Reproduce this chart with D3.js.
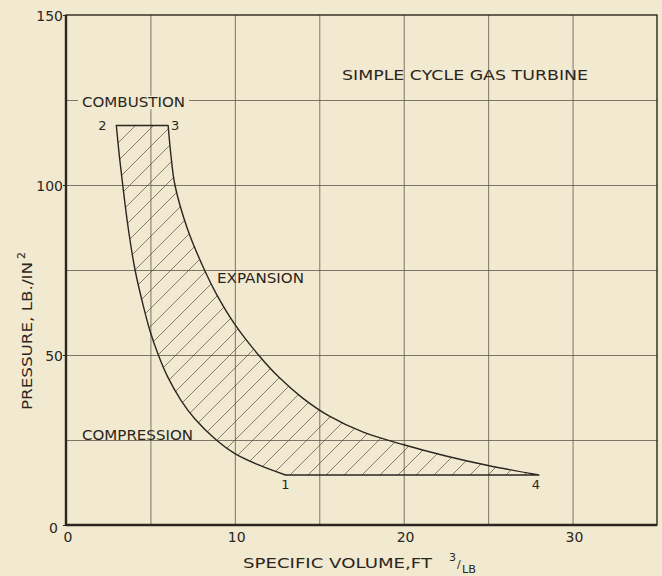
<!DOCTYPE html>
<html>
<head>
<meta charset="utf-8">
<script src="https://cdn.jsdelivr.net/npm/d3@7"></script>
<style>
  body { margin: 0; background: #f1e9d0; }
  svg { display: block; }
  text { font-family: "DejaVu Sans", sans-serif; fill: #2b2620; }
</style>
</head>
<body>
<div id="chart"></div>
<script>
// tick values and grid
var xTicks = [0, 10, 20, 30];
var yTicks = [0, 50, 100, 150];
var xGrid = [5, 10, 15, 20, 25, 30];
var yGrid = [25, 50, 75, 100, 125];

// cycle corner points (specific volume ft3/lb, pressure psi)
var cycleLabels = ["1", "2", "3", "4"];
var cycleV = [13, 2.98, 6.05, 28];
var cycleP = [14.7, 117.5, 117.5, 14.7];

// compression curve, 1 -> 2
var compV = [13, 11.3, 10, 8.9, 7.6, 6.82, 6, 5.47, 4.98, 4.6, 4.09, 3.68, 3.36, 3.15, 2.98];
var compP = [14.7, 17.9, 21, 25, 31.4, 36.6, 43.8, 50, 57, 64, 75, 87.5, 100, 109, 117.5];

// expansion curve, 3 -> 4
var expV = [6.05, 6.22, 6.45, 7.2, 8.2, 8.9, 10, 11.4, 12.6, 14, 15.6, 17.6, 20, 22.5, 25, 28];
var expP = [117.5, 108.5, 100, 87, 75, 68, 59, 50, 43.5, 37.4, 32, 27.3, 23.6, 20.3, 17.5, 14.7];

var margin = { top: 15, right: 5, bottom: 51, left: 66 },
  width = 662 - margin.left - margin.right,
  height = 576 - margin.top - margin.bottom;

var ink = "#2b2620";
var paper = "#f1e9d0";

var root = d3.select("#chart")
  .append("svg")
  .attr("width", 662)
  .attr("height", 576);

root.append("rect").attr("width", 662).attr("height", 576).attr("fill", paper);

var svg = root.append("g")
  .attr("transform", "translate(" + margin.left + "," + margin.top + ")");

var x = d3.scaleLinear().domain([0, 35]).range([0, width]);
var y = d3.scaleLinear().domain([0, 150]).range([height, 0]);

// hatch pattern
var defs = root.append("defs");
var hs = 18;
defs.append("pattern")
  .attr("id", "hatch")
  .attr("patternUnits", "userSpaceOnUse")
  .attr("width", hs)
  .attr("height", hs)
  .append("path")
  .attr("d", "M0," + hs + " L" + hs + ",0 M-2,2 L2,-2 M" + (hs - 2) + "," + (hs + 2) + " L" + (hs + 2) + "," + (hs - 2))
  .attr("stroke", "#514b40")
  .attr("stroke-width", 0.7);

// grid
svg.append("g")
  .attr("transform", "translate(0," + height + ")")
  .call(d3.axisBottom(x).tickValues(xGrid).tickSize(-height).tickFormat(""))
  .call(function (g) { g.select(".domain").remove(); })
  .selectAll("line")
  .attr("stroke", "#5e584c")
  .attr("stroke-width", 0.8);

svg.append("g")
  .call(d3.axisLeft(y).tickValues(yGrid).tickSize(-width).tickFormat(""))
  .call(function (g) { g.select(".domain").remove(); })
  .selectAll("line")
  .attr("stroke", "#5e584c")
  .attr("stroke-width", 0.8);

// frame
svg.append("rect")
  .attr("width", width)
  .attr("height", height)
  .attr("fill", "none")
  .attr("stroke", ink)
  .attr("stroke-width", 1.4);
svg.append("line").attr("x1", 0).attr("x2", 0).attr("y1", 0).attr("y2", height)
  .attr("stroke", ink).attr("stroke-width", 2.4);
svg.append("line").attr("x1", 0).attr("x2", width).attr("y1", height).attr("y2", height)
  .attr("stroke", ink).attr("stroke-width", 2.4);

// tick labels
var yAxis = svg.append("g")
  .call(d3.axisLeft(y).tickValues(yTicks).tickSize(3).tickPadding(2));
yAxis.select(".domain").remove();
yAxis.selectAll("line").attr("stroke", ink);
yAxis.selectAll("text")
  .attr("font-size", "14px")
  .attr("dy", function (d) { return d === 0 ? "0.55em" : "0.4em"; })
  .attr("x", function (d) { return d === 0 ? -8 : -3; })
  .style("font-family", "DejaVu Sans, sans-serif")
  .attr("fill", ink);

var xAxis = svg.append("g")
  .attr("transform", "translate(0," + height + ")")
  .call(d3.axisBottom(x).tickValues(xTicks).tickSize(0).tickPadding(7));
xAxis.select(".domain").remove();
xAxis.selectAll("text")
  .attr("font-size", "14px")
  .attr("dx", "0.1em")
  .style("font-family", "DejaVu Sans, sans-serif")
  .attr("fill", ink);

// text label, optionally on a paper patch that breaks the grid line
function label(txt, x0, yb, len, size, bg) {
  if (bg) {
    svg.append("rect")
      .attr("x", x0 - 4)
      .attr("y", yb - size * 0.8)
      .attr("width", len + 8)
      .attr("height", size * 0.95)
      .attr("fill", paper);
  }
  return svg.append("text")
    .attr("x", x0)
    .attr("y", yb)
    .attr("font-size", size + "px")
    .attr("textLength", len)
    .attr("lengthAdjust", "spacingAndGlyphs")
    .text(txt);
}

// cycle area
var lineGen = d3.line()
  .x(function (d) { return x(d[0]); })
  .y(function (d) { return y(d[1]); })
  .curve(d3.curveCatmullRom.alpha(0.5));

var compPts = compV.map(function (v, i) { return [v, compP[i]]; });
var expPts = expV.map(function (v, i) { return [v, expP[i]]; });

var cyclePath = lineGen(compPts) + "L" + lineGen(expPts).slice(1) + "Z";

svg.append("path")
  .attr("d", cyclePath)
  .attr("fill", "url(#hatch)")
  .attr("stroke", "none");

svg.append("path")
  .attr("d", cyclePath)
  .attr("fill", "none")
  .attr("stroke", ink)
  .attr("stroke-width", 1.4)
  .attr("stroke-linejoin", "round");

// text labels (page positions shifted into plot coords)
label("COMBUSTION", 82 - margin.left, 107 - margin.top, 103, 14, true);
label("SIMPLE CYCLE GAS TURBINE", 342 - margin.left, 80 - margin.top, 246, 13.5, false);
label("EXPANSION", 217 - margin.left, 283 - margin.top, 87, 14, false);
label("COMPRESSION", 82 - margin.left, 440 - margin.top, 111, 14, false);

// corner numbers
var numOffset = { "1": [0, 14], "2": [-14, 4], "3": [7, 4], "4": [-3, 14] };
svg.selectAll(".num")
  .data(cycleLabels)
  .enter()
  .append("text")
  .attr("class", "num")
  .attr("x", function (d, i) { return x(cycleV[i]) + numOffset[d][0]; })
  .attr("y", function (d, i) { return y(cycleP[i]) + numOffset[d][1]; })
  .attr("text-anchor", "middle")
  .attr("font-size", "13px")
  .text(function (d) { return d; });

// x axis title
root.append("text")
  .attr("x", 243).attr("y", 568)
  .attr("font-size", "13.5px")
  .attr("textLength", 189)
  .attr("lengthAdjust", "spacingAndGlyphs")
  .text("SPECIFIC VOLUME,FT");
root.append("text").attr("x", 449).attr("y", 561).attr("font-size", "11px").text("3");
root.append("text").attr("x", 457).attr("y", 568).attr("font-size", "11px").text("/");
root.append("text").attr("x", 462).attr("y", 573).attr("font-size", "11px")
  .attr("textLength", 14).attr("lengthAdjust", "spacingAndGlyphs").text("LB");

// y axis title
var yt = root.append("g").attr("transform", "translate(32,410) rotate(-90)");
yt.append("text")
  .attr("x", 0).attr("y", 0)
  .attr("font-size", "13.5px")
  .attr("textLength", 148)
  .attr("lengthAdjust", "spacingAndGlyphs")
  .text("PRESSURE, LB./IN");
yt.append("text")
  .attr("x", 151).attr("y", -7)
  .attr("font-size", "11px")
  .text("2");
</script>
</body>
</html>
